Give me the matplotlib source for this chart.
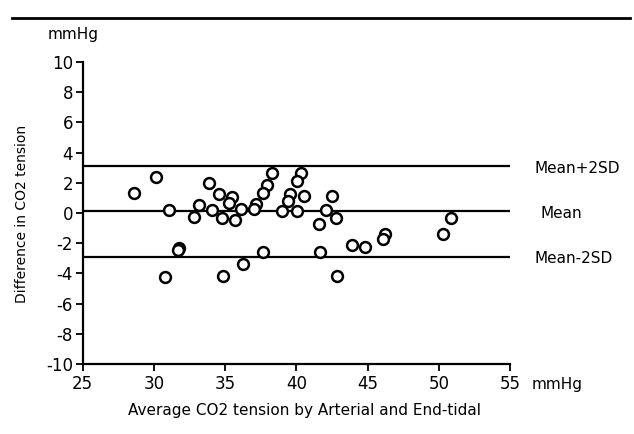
import matplotlib
matplotlib.use('Agg')
import matplotlib.pyplot as plt

plt.rcParams['axes.unicode_minus'] = False

# average CO2 tension (x) and arterial - end-tidal difference (y), mmHg
avg_co2 = [30.15, 28.6, 31.06, 33.19, 32.82, 33.89, 34.59, 35.48, 35.30, 34.08,
           34.80, 35.67, 36.10, 31.76, 31.71, 30.80, 34.87, 36.24, 38.27, 40.31,
           40.07, 37.92, 37.64, 39.56, 39.40, 40.52, 42.53, 37.17, 37.03, 39.02,
           40.05, 42.09, 42.77, 41.57, 46.23, 46.07, 43.91, 44.85, 37.68, 41.66,
           42.88, 50.84, 50.28]
diff_co2 = [2.38, 1.30, 0.22, 0.53, -0.28, 1.97, 1.28, 1.06, 0.68, 0.22,
            -0.31, -0.48, 0.25, -2.30, -2.47, -4.24, -4.15, -3.40, 2.67, 2.65,
            2.14, 1.87, 1.30, 1.28, 0.79, 1.11, 1.11, 0.58, 0.25, 0.11,
            0.11, 0.22, -0.35, -0.75, -1.39, -1.72, -2.10, -2.23, -2.58, -2.60,
            -4.15, -0.31, -1.41]

mean_diff = 0.1
upper_limit = 3.1
lower_limit = -2.9
ref_labels = ['Mean+2SD', 'Mean', 'Mean-2SD']

x_ticks = [25, 30, 35, 40, 45, 50, 55]
y_ticks = [10, 8, 6, 4, 2, 0, -2, -4, -6, -8, -10]

W, H = 634, 434
fig = plt.figure(figsize=(W / 100, H / 100), dpi=100)
ax = fig.add_axes([82.7 / W, 1 - 364 / H, (510 - 82.7) / W, (364 - 62) / H])

for val in [upper_limit, mean_diff, lower_limit]:
    ax.plot([25, 55], [val, val], color='black', lw=1.6, zorder=1)

ax.plot(avg_co2, diff_co2, 'o', mfc='white', mec='black', mew=1.8, ms=7.8,
        clip_on=False, zorder=3)

ax.set_xlim(25, 55)
ax.set_ylim(-10, 10)
ax.set_xticks(x_ticks)
ax.set_yticks(y_ticks)
ax.spines['top'].set_visible(False)
ax.spines['right'].set_visible(False)
for s in ['left', 'bottom']:
    ax.spines[s].set_linewidth(1.6)
ax.tick_params(axis='both', direction='out', length=5, width=1.3, labelsize=12)
ax.tick_params(axis='x', pad=3)
ax.tick_params(axis='y', pad=2)

for val, lab in zip([upper_limit, mean_diff, lower_limit], ref_labels):
    ax.annotate(lab, xy=(1, val), xycoords=('axes fraction', 'data'),
                xytext=(25 if lab != 'Mean' else 30, -2), textcoords='offset pixels',
                va='center', ha='left', fontsize=11)

fig.text(48 / W, 1 - 34 / H, 'mmHg', fontsize=11, va='center', ha='left')
fig.text(532 / W, 1 - 384 / H, 'mmHg', fontsize=11, va='center', ha='left')
fig.text(22 / W, 1 - 214 / H, 'Difference in CO2 tension', rotation=90,
         fontsize=10, va='center', ha='center')
fig.text(304 / W, 1 - 411 / H, 'Average CO2 tension by Arterial and End-tidal',
         fontsize=11, va='center', ha='center')

# rule across the top of the figure
fig.add_artist(plt.Line2D([12 / W, 630 / W], [1 - 18 / H, 1 - 18 / H],
                          color='black', lw=2))

fig.savefig('out.png', dpi=100)
